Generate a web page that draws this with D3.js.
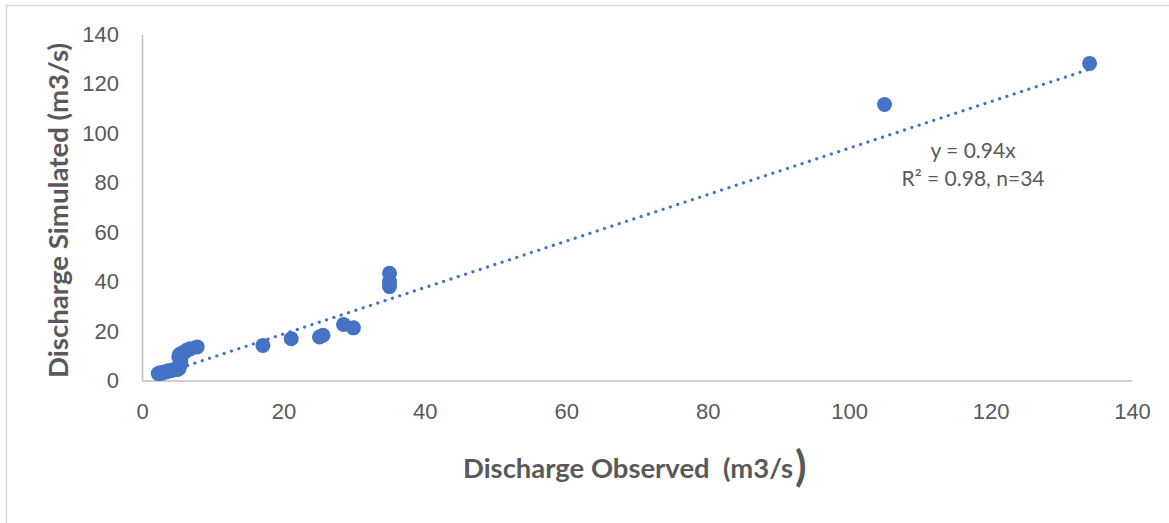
<!DOCTYPE html>
<html>
<head>
<meta charset="utf-8">
<script src="https://cdn.jsdelivr.net/npm/d3@7"></script>
<style>
  html, body { margin: 0; padding: 0; background: #fff; }
  svg { display: block; font-family: "Lato", "Carlito", "Liberation Sans", sans-serif; }
  .pre { white-space: pre; }
</style>
</head>
<body>
<svg id="chart" width="1169" height="523"></svg>
<script>
// Observed vs simulated discharge (m3/s), one entry per event
const observed = [
  2.3, 2.5, 2.7, 2.9, 3.1, 3.4, 3.6, 3.9, 4.2, 4.5, 4.8, 5.0,
  5.2, 5.3, 5.4, 5.5, 5.2, 5.3, 5.6, 6.0, 6.3, 6.8, 7.8,
  17.1, 21.1, 25.1, 25.6, 28.5, 29.9, 35.0, 35.0, 35.0, 105.0, 134.0
];
const simulated = [
  2.8, 3.0, 2.9, 3.2, 3.3, 3.5, 3.8, 3.9, 4.1, 4.4, 4.6, 4.5,
  4.8, 5.5, 6.5, 8.0, 9.5, 10.5, 11.0, 11.5, 12.2, 12.8, 13.6,
  14.2, 16.9, 17.6, 18.3, 22.7, 21.3, 43.4, 40.0, 38.0, 111.7, 128.3
];
const xTicks = [0, 20, 40, 60, 80, 100, 120, 140];
const yTicks = [0, 20, 40, 60, 80, 100, 120, 140];
const trendSlope = 0.94;
const trendLabel = ["y = 0.94x", "R\u00B2 = 0.98, n=34"];
const xTitle = "Discharge Observed  (m3/s";
const yTitle = "Discharge Simulated (m3/s)";

const points = observed.map((v, i) => ({ x: v, y: simulated[i] }));

const svg = d3.select("#chart");
const textColor = "#595959";
const axisColor = "#bfbfbf";
const markColor = "#4472c4";

// chart frame (top and left edges visible)
svg.append("path")
  .attr("d", "M6.5,523 V5.5 H1169")
  .attr("fill", "none")
  .attr("stroke", "#d9d9d9")
  .attr("stroke-width", 1.5);

const x = d3.scaleLinear().domain([0, 140]).range([142, 1132]);
const y = d3.scaleLinear().domain([0, 140]).range([380.5, 34.5]);

// x axis
const gx = svg.append("g")
  .attr("transform", `translate(0,${y(0)})`)
  .call(d3.axisBottom(x).tickValues(xTicks).tickSize(0).tickSizeOuter(0).tickPadding(23));
gx.select(".domain").attr("stroke", axisColor).attr("stroke-width", 1.6);
gx.selectAll("text").attr("fill", textColor).attr("font-size", 22).attr("font-family", null);

// y axis
const gy = svg.append("g")
  .attr("transform", `translate(${x(0)},0)`)
  .call(d3.axisLeft(y).tickValues(yTicks).tickSize(0).tickSizeOuter(0).tickPadding(23));
gy.select(".domain").attr("stroke", axisColor).attr("stroke-width", 1.6);
gy.selectAll("text").attr("fill", textColor).attr("font-size", 22).attr("font-family", null);

// linear trendline through the origin, across the observed range
const xr = d3.extent(observed);
svg.append("path")
  .datum(xr.map(v => ({ x: v, y: trendSlope * v })))
  .attr("d", d3.line().x(d => x(d.x)).y(d => y(d.y)))
  .attr("fill", "none")
  .attr("stroke", markColor)
  .attr("stroke-width", 3.2)
  .attr("stroke-linecap", "round")
  .attr("stroke-dasharray", "0.1 7.6");

// observations
svg.append("g")
  .selectAll("circle")
  .data(points)
  .join("circle")
  .attr("cx", d => x(d.x))
  .attr("cy", d => y(d.y))
  .attr("r", 7.5)
  .attr("fill", markColor);

// trendline equation
svg.append("g")
  .selectAll("text")
  .data(trendLabel)
  .join("text")
  .attr("x", 973)
  .attr("y", (d, i) => 158 + i * 28)
  .attr("text-anchor", "middle")
  .attr("font-size", 21)
  .attr("fill", textColor)
  .text(d => d);

// axis titles
svg.append("text")
  .attr("transform", `translate(68,${(43 + 378) / 2}) rotate(-90)`)
  .attr("text-anchor", "middle")
  .attr("font-size", 27)
  .attr("font-weight", "bold")
  .attr("fill", textColor)
  .attr("textLength", 335)
  .attr("lengthAdjust", "spacingAndGlyphs")
  .text(yTitle);

const xt = svg.append("text")
  .attr("class", "pre")
  .attr("x", 463)
  .attr("y", 478)
  .attr("font-size", 26)
  .attr("font-weight", "bold")
  .attr("fill", textColor);
xt.append("tspan")
  .attr("textLength", 330)
  .attr("lengthAdjust", "spacingAndGlyphs")
  .text(xTitle);
xt.append("tspan").attr("font-size", 42).attr("dx", 2).attr("dy", 3).text(")");
</script>
</body>
</html>
